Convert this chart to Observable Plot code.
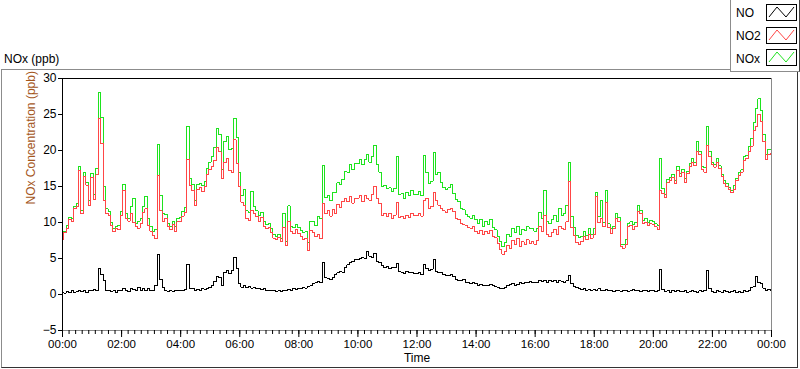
<!DOCTYPE html>
<html>
<head>
<meta charset="utf-8">
<script src="https://cdn.jsdelivr.net/npm/d3@7"></script>
<script src="https://cdn.jsdelivr.net/npm/@observablehq/plot@0.6"></script>
<style>
html, body { margin: 0; padding: 0; background: #fff; }
body { width: 800px; height: 369px; position: relative; overflow: hidden; font-family: "Liberation Sans", Arial, sans-serif; color: #000; }
#chart { position: absolute; left: 0; top: 0; }
#frame { position: absolute; left: 1px; top: 69px; width: 795px; height: 297px;
  border-top: 1px solid #8c8c8c; border-left: 1px solid #8c8c8c; border-right: 1px solid #333; border-bottom: 1px solid #333; }
#title { position: absolute; left: 4px; top: 52px; font-size: 12px; line-height: 14px; white-space: nowrap; }
#legend { position: absolute; left: 730px; top: 0; width: 68px; height: 71px; background: #fff;
  border-left: 1px solid #8c8c8c; border-bottom: 1px solid #8c8c8c; border-right: 1px solid #444; }
#legend .lab { position: absolute; left: 5px; font-size: 12px; line-height: 14px; }
#legend svg { position: absolute; left: 35px; }
</style>
</head>
<body>
<div id="chart"></div>
<div id="frame"></div>
<div id="title">NOx (ppb)</div>
<div id="legend"></div>
<script>
// ---- data (5-minute samples, 00:00 .. 24:00) ----
const seriesNames = ["NO", "NO2", "NOx"];
const seriesColors = ["#000000", "#ff4646", "#1ee31e"];
const yTicks = [-5, 0, 5, 10, 15, 20, 25, 30];
const yTitle = "NOx Concentration (ppb)";
const xTitle = "Time";
const chartTitle = "NOx (ppb)";

const no = [
  0.3, 0.2, 0.4, 0.3, 0.5, 0.3, 0.4, 0.6, 0.4, 0.5, 0.3, 0.6,
  0.5, 0.7, 0.6, 3.6, 2.8, 2.0, 0.6, 0.5, 0.4, 0.5, 0.3, 0.6,
  0.5, 0.8, 0.6, 0.4, 0.9, 0.7, 0.5, 1.0, 0.6, 0.8, 0.5, 0.9,
  0.6, 0.5, 1.2, 5.6, 2.1, 1.0, 0.5, 0.4, 0.5, 0.4, 0.6, 0.5,
  0.5, 0.6, 0.7, 4.2, 0.9, 0.8, 0.6, 0.7, 0.6, 0.8, 0.7, 0.9,
  1.0, 1.3, 1.8, 2.5, 2.4, 1.2, 3.0, 3.3, 2.9, 3.4, 5.2, 3.6,
  1.5, 1.0, 1.2, 1.0, 1.1, 0.9, 1.0, 0.8, 0.9, 0.7, 0.8, 0.6,
  0.6, 0.5, 0.5, 0.4, 0.5, 0.4, 0.6, 0.5, 0.7, 0.6, 0.8, 0.7,
  0.8, 0.9, 1.0, 0.9, 1.1, 1.2, 1.5, 1.6, 1.8, 1.7, 4.5, 2.3,
  2.2, 2.1, 2.4, 2.8, 3.0, 3.2, 3.1, 3.8, 4.1, 4.4, 4.6, 4.9,
  4.8, 5.0, 5.1, 5.0, 6.0, 5.3, 5.2, 5.7, 4.6, 4.4, 4.0, 3.8,
  3.9, 3.6, 3.8, 3.7, 4.3, 3.2, 3.1, 2.9, 3.2, 3.0, 3.1, 2.9,
  2.9, 3.0, 2.8, 4.2, 3.6, 3.4, 3.5, 4.9, 3.2, 3.0, 3.1, 2.8,
  2.7, 2.6, 2.8, 2.5, 2.1, 2.0, 1.9, 2.1, 1.7, 1.6, 1.5, 1.6,
  1.5, 1.3, 1.4, 1.2, 1.3, 1.2, 1.4, 1.2, 1.1, 1.0, 0.9, 0.8,
  1.0, 1.3, 1.4, 1.5, 1.3, 1.4, 1.6, 1.5, 1.7, 1.6, 1.8, 1.6,
  1.7, 1.6, 1.9, 1.8, 2.0, 1.7, 1.9, 1.8, 2.0, 1.7, 1.9, 1.8,
  1.7, 1.9, 2.6, 1.5, 1.1, 1.0, 0.9, 0.7, 0.8, 0.6, 0.7, 0.6,
  0.7, 0.6, 0.8, 0.5, 0.6, 0.7, 0.5, 0.6, 0.4, 0.6, 0.5, 0.4,
  0.5, 0.6, 0.4, 0.5, 0.7, 0.5, 0.6, 0.4, 0.5, 0.6, 0.4, 0.5,
  0.5, 0.4, 0.6, 3.5, 0.7, 0.4, 0.5, 0.3, 0.5, 0.4, 0.6, 0.4,
  0.4, 0.5, 0.3, 0.4, 0.5, 0.4, 0.3, 0.5, 0.4, 0.6, 3.4, 0.8,
  0.4, 0.3, 0.5, 0.4, 0.3, 0.5, 0.4, 0.3, 0.4, 0.5, 0.3, 0.4,
  0.3, 0.5, 0.4, 0.6, 1.0, 1.1, 2.5, 1.6, 1.5, 0.9, 0.6, 0.7,
  0.6
];

const no2 = [
  7.7, 8.6, 9.2, 10.4, 10.1, 11.9, 12.2, 17.2, 11.2, 16.4, 15.2, 12.4,
  16.3, 13.2, 16.6, 24.4, 21.0, 13.0, 11.3, 11.0, 9.6, 8.7, 9.2, 9.0,
  11.0, 14.5, 10.6, 10.2, 11.3, 10.0, 9.4, 9.2, 9.9, 11.4, 11.9, 9.6,
  8.8, 8.2, 7.8, 16.5, 11.6, 10.2, 10.6, 9.4, 9.0, 9.7, 8.8, 10.1,
  10.2, 10.9, 11.4, 18.8, 15.2, 14.5, 12.4, 14.6, 14.8, 14.3, 15.0, 16.6,
  17.4, 17.8, 18.6, 20.4, 19.8, 16.1, 18.3, 18.9, 17.2, 16.9, 21.5, 18.2,
  15.0, 12.8, 12.4, 10.6, 10.3, 11.7, 11.2, 10.8, 10.1, 10.7, 9.4, 9.1,
  9.3, 8.6, 7.8, 7.6, 7.9, 7.4, 9.3, 6.8, 10.2, 8.8, 8.5, 9.0,
  8.5, 8.0, 7.6, 7.8, 6.1, 8.9, 8.6, 8.0, 8.4, 7.8, 12.6, 11.2,
  11.6, 10.9, 11.8, 11.3, 12.5, 12.1, 12.9, 13.3, 12.9, 13.6, 12.7, 13.3,
  13.4, 13.8, 12.9, 13.7, 13.4, 13.1, 13.9, 15.0, 13.4, 12.6, 11.0, 11.3,
  10.8, 11.2, 10.5, 11.0, 12.8, 10.7, 10.9, 10.5, 11.0, 10.7, 11.3, 11.0,
  11.0, 11.3, 10.9, 13.0, 13.4, 12.0, 12.2, 14.2, 13.0, 12.4, 12.0, 11.6,
  11.4, 11.8, 12.0, 11.5, 10.6, 10.4, 9.9, 9.7, 9.6, 9.3, 9.2, 9.5,
  8.8, 8.5, 8.9, 8.3, 8.8, 8.5, 8.9, 8.1, 7.9, 7.1, 6.3, 5.6,
  6.0, 6.8, 6.4, 7.5, 7.0, 7.8, 6.6, 7.3, 7.0, 7.6, 7.1, 7.4,
  7.0, 7.5, 9.4, 8.8, 11.0, 8.4, 8.0, 8.6, 9.0, 8.4, 9.5, 9.2,
  9.0, 10.1, 15.7, 9.3, 8.2, 7.2, 7.0, 7.4, 8.0, 7.6, 8.4, 7.8,
  8.4, 13.6, 10.0, 10.5, 9.4, 12.8, 9.3, 8.5, 9.1, 10.6, 10.2, 6.6,
  6.4, 7.0, 9.4, 9.6, 9.0, 9.5, 11.5, 11.3, 9.8, 10.0, 9.6, 9.8,
  9.7, 9.4, 9.0, 14.4, 14.0, 13.5, 15.5, 15.9, 16.2, 15.4, 17.2, 16.4,
  17.0, 15.6, 16.8, 17.8, 18.4, 17.9, 19.9, 19.4, 17.4, 17.0, 20.7, 19.1,
  18.0, 17.7, 18.4, 17.5, 16.4, 15.4, 15.0, 14.6, 14.1, 14.6, 15.8, 16.5,
  17.0, 18.6, 18.9, 19.9, 20.6, 22.8, 23.4, 25.0, 24.0, 21.3, 18.8, 19.4,
  19.6
];

const nox = [
  8.0, 8.8, 9.6, 10.7, 10.6, 12.2, 12.6, 17.8, 11.6, 16.9, 15.5, 13.0,
  16.8, 13.9, 17.5, 28.0, 24.6, 15.0, 11.9, 11.5, 10.0, 9.2, 9.5, 9.6,
  11.5, 15.3, 11.2, 10.6, 12.2, 13.3, 9.9, 10.2, 10.5, 12.2, 13.6, 10.5,
  9.4, 8.7, 9.0, 20.8, 13.7, 11.2, 11.1, 9.8, 9.5, 10.1, 9.4, 10.6,
  10.7, 11.5, 12.1, 23.3, 16.1, 15.3, 13.0, 15.3, 15.4, 15.1, 15.7, 17.5,
  18.4, 19.1, 20.4, 23.0, 22.2, 17.3, 21.3, 22.0, 20.1, 20.3, 24.5, 21.8,
  17.0, 13.8, 14.6, 11.6, 11.4, 14.3, 12.2, 11.6, 11.0, 11.4, 10.2, 9.7,
  9.9, 9.1, 8.3, 8.0, 8.4, 7.8, 11.2, 7.3, 12.3, 9.4, 9.3, 9.7,
  9.3, 8.9, 8.6, 8.7, 7.2, 10.1, 10.1, 9.6, 10.9, 10.5, 17.9, 13.5,
  13.8, 13.0, 14.2, 14.1, 15.5, 15.3, 16.0, 17.1, 17.0, 18.0, 17.3, 18.2,
  18.2, 18.8, 18.0, 18.7, 19.4, 18.4, 19.1, 20.7, 18.0, 17.0, 15.0, 15.1,
  14.7, 14.8, 14.3, 14.7, 19.2, 13.9, 14.0, 13.4, 14.2, 13.7, 14.4, 13.9,
  13.9, 14.3, 13.7, 19.3, 17.0, 15.4, 15.7, 19.7, 16.6, 17.0, 15.5, 14.9,
  14.6, 14.8, 15.3, 14.0, 13.2, 12.9, 11.9, 11.8, 11.1, 10.8, 10.6, 11.0,
  10.4, 9.8, 10.4, 9.5, 10.1, 9.7, 10.4, 9.3, 9.0, 8.1, 7.3, 6.6,
  7.2, 8.4, 8.0, 9.2, 8.6, 9.4, 8.4, 9.0, 8.9, 9.4, 9.1, 9.2,
  8.8, 9.2, 11.4, 10.6, 14.4, 10.1, 9.9, 10.4, 11.0, 10.1, 12.0, 11.0,
  11.2, 12.4, 18.3, 10.8, 9.3, 8.2, 7.9, 8.1, 8.8, 8.2, 9.1, 8.4,
  9.1, 14.2, 10.8, 13.0, 10.0, 14.4, 9.8, 9.1, 9.5, 11.2, 10.7, 7.0,
  6.9, 7.6, 9.8, 10.1, 9.7, 10.0, 12.3, 11.7, 10.3, 10.6, 10.0, 10.3,
  10.2, 9.8, 9.6, 18.9, 14.7, 13.9, 16.0, 16.2, 16.7, 15.8, 17.8, 16.8,
  17.4, 16.1, 17.1, 18.2, 18.9, 18.3, 21.2, 19.9, 17.8, 17.6, 23.4, 19.9,
  18.4, 18.0, 18.9, 17.9, 16.7, 15.9, 15.4, 14.9, 14.5, 15.1, 16.1, 16.9,
  17.3, 19.1, 19.3, 20.5, 21.6, 23.9, 25.9, 27.2, 25.5, 22.2, 19.4, 20.1,
  20.2
];

// ---- build table ----
const t0 = Date.UTC(2020, 0, 1, 0, 0);
const t1 = Date.UTC(2020, 0, 2, 0, 0);
const sampleMs = 5 * 60 * 1000;
const table = no.map((v, i) => ({ time: new Date(t0 + i * sampleMs), no: v, no2: no2[i], nox: nox[i] }));

const majorTicks = d3.utcHour.every(2).range(new Date(t0), new Date(t1 + 1));
const minorTicks = d3.range(t0, t1 + 1, 800 * 1000).map(t => new Date(t));
const fmt = d3.utcFormat("%H:%M");

const chart = Plot.plot({
  width: 800,
  height: 369,
  marginLeft: 62,
  marginRight: 29,
  marginTop: 78,
  marginBottom: 39,
  style: { background: "transparent", fontFamily: "Liberation Sans, Arial, sans-serif", fontSize: "12px", color: "#000" },
  x: { type: "utc", domain: [new Date(t0), new Date(t1)] },
  y: { domain: [-5, 30] },
  marks: [
    Plot.line(table, { x: "time", y: "nox", stroke: seriesColors[2], strokeWidth: 1, curve: "step", shapeRendering: "crispEdges" }),
    Plot.line(table, { x: "time", y: "no2", stroke: seriesColors[1], strokeWidth: 1, curve: "step", shapeRendering: "crispEdges" }),
    Plot.line(table, { x: "time", y: "no", stroke: seriesColors[0], strokeWidth: 1, curve: "step", shapeRendering: "crispEdges" }),
    Plot.ruleY([30], { stroke: "#000" }),
    Plot.ruleX([new Date(t0)], { stroke: "#000" }),
    Plot.ruleX([new Date(t1)], { stroke: "#8a8a8a" }),
    Plot.ruleY([-5], { stroke: "#8a8a8a" }),
    Plot.axisY({ ticks: yTicks, tickSize: 4, tickPadding: 2, fontSize: 12, label: null, anchor: "left" }),
    Plot.axisX({ ticks: minorTicks, tickSize: 4, tickFormat: () => "", label: null, anchor: "bottom" }),
    Plot.axisX({ ticks: majorTicks, tickSize: 7, tickPadding: 2, tickFormat: fmt, fontSize: 11.5, label: null, anchor: "bottom" }),
    Plot.text([yTitle], { text: d => d, frameAnchor: "left", dx: -31, rotate: -90, fill: "#a4561c", fontSize: 12 }),
    Plot.text([xTitle], { text: d => d, frameAnchor: "bottom", dy: 31.5, fill: "#000", fontSize: 12 })
  ]
});
document.getElementById("chart").appendChild(chart);
document.getElementById("title").textContent = chartTitle;

// ---- legend ----
const legend = document.getElementById("legend");
const rows = [{ lab: 6, box: 4 }, { lab: 29, box: 27 }, { lab: 52, box: 49 }];
seriesNames.forEach((name, i) => {
  const s = document.createElement("span");
  s.className = "lab";
  s.style.top = rows[i].lab + "px";
  s.textContent = name;
  legend.appendChild(s);
  const ns = "http://www.w3.org/2000/svg";
  const svg = document.createElementNS(ns, "svg");
  svg.setAttribute("width", 31);
  svg.setAttribute("height", 17);
  svg.style.top = rows[i].box + "px";
  const r = document.createElementNS(ns, "rect");
  r.setAttribute("x", 0.5); r.setAttribute("y", 0.5);
  r.setAttribute("width", 30); r.setAttribute("height", 16);
  r.setAttribute("fill", "#fff"); r.setAttribute("stroke", "#000");
  svg.appendChild(r);
  const p = document.createElementNS(ns, "polyline");
  p.setAttribute("points", "3,13 11,3 20,13 28,3");
  p.setAttribute("fill", "none");
  p.setAttribute("stroke", seriesColors[i]);
  p.setAttribute("stroke-width", 1);
  svg.appendChild(p);
  legend.appendChild(svg);
});
</script>
</body>
</html>
